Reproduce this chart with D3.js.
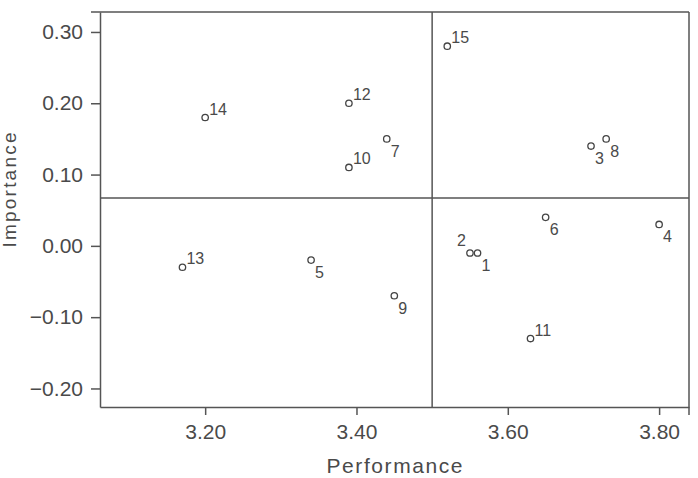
<!DOCTYPE html>
<html>
<head>
<meta charset="utf-8">
<script src="https://cdn.jsdelivr.net/npm/d3@7"></script>
<style>
  body { margin: 0; background: #fff; }
  text { font-family: "Liberation Sans", Arial, sans-serif; fill: #4a4a4a; }
</style>
</head>
<body>
<div id="chart"></div>
<script>
"use strict";

// data
const itemIds     = ["1", "2", "3", "4", "5", "6", "7", "8", "9", "10", "11", "12", "13", "14", "15"];
const performance = [3.56, 3.55, 3.71, 3.80, 3.34, 3.65, 3.44, 3.73, 3.45, 3.39, 3.63, 3.39, 3.17, 3.20, 3.52];
const importance  = [-0.01, -0.01, 0.14, 0.03, -0.02, 0.04, 0.15, 0.15, -0.07, 0.11, -0.13, 0.20, -0.03, 0.18, 0.28];
const labelSide   = ["lr", "ul", "lr", "lr", "lr", "lr", "lr", "lr", "lr", "ur", "ur", "ur", "ur", "ur", "ur"];
const xTicks = [3.20, 3.40, 3.60, 3.80];
const yTicks = [0.30, 0.20, 0.10, 0.00, -0.10, -0.20];
const refPerformance = 3.50;
const refImportance = 0.067;

// setting
const width = 698, height = 478;
const margin = {top: 12, right: 9, bottom: 71, left: 100};
const plotW = width - margin.left - margin.right,
      plotH = height - margin.top - margin.bottom;
const lineColor = "#555";

let points = itemIds.map((id, i) => ({id: id, x: performance[i], y: importance[i], side: labelSide[i]}));

let svg = d3.select("#chart").append("svg")
  .attr("width", width)
  .attr("height", height);

let chart = svg.append("g")
  .attr("transform", `translate(${margin.left}, ${margin.top})`);

// scales
let scaleX = d3.scaleLinear().domain([3.061, 3.8395]).range([0, plotW]);
let scaleY = d3.scaleLinear().domain([-0.226, 0.328]).range([plotH, 0]);

// y axis
chart.append("g")
  .attr("class", "y_axis")
  .call(d3.axisLeft(scaleY).tickValues(yTicks).tickFormat(d => d3.format(".2f")(d).replace("-", "\u2212")).tickSize(9).tickSizeOuter(0).tickPadding(8));

// x axis
chart.append("g")
  .attr("class", "x_axis")
  .attr("transform", `translate(0, ${plotH})`)
  .call(d3.axisBottom(scaleX).tickValues(xTicks).tickFormat(d3.format(".2f")).tickSize(8).tickSizeOuter(0).tickPadding(9));

chart.selectAll(".domain, .tick line")
  .attr("stroke", lineColor)
  .attr("stroke-width", 1.5);
chart.selectAll(".tick text")
  .attr("fill", "#4a4a4a")
  .style("font-size", "21px");

// frame top + right (with outer tick stubs)
chart.append("line")
  .attr("x1", -9).attr("x2", plotW)
  .attr("y1", 0).attr("y2", 0)
  .attr("stroke", lineColor).attr("stroke-width", 1.5);
chart.append("line")
  .attr("x1", plotW).attr("x2", plotW)
  .attr("y1", 0).attr("y2", plotH + 8)
  .attr("stroke", lineColor).attr("stroke-width", 1.5);

// reference lines
chart.append("line")
  .attr("x1", scaleX(refPerformance)).attr("x2", scaleX(refPerformance))
  .attr("y1", 0).attr("y2", plotH)
  .attr("stroke", lineColor).attr("stroke-width", 1.5);
chart.append("line")
  .attr("x1", 0).attr("x2", plotW)
  .attr("y1", scaleY(refImportance)).attr("y2", scaleY(refImportance))
  .attr("stroke", lineColor).attr("stroke-width", 1.5);

// points
let pts = chart.append("g").attr("class", "points")
  .selectAll("g")
  .data(points)
  .enter()
  .append("g")
  .attr("transform", d => `translate(${scaleX(d.x)}, ${scaleY(d.y)})`);

pts.append("circle")
  .attr("r", 3.2)
  .attr("fill", "none")
  .attr("stroke", "#444")
  .attr("stroke-width", 1.3);

pts.append("text")
  .text(d => d.id)
  .style("font-size", "16px")
  .attr("text-anchor", d => d.side == "ul" ? "end" : "start")
  .attr("x", d => d.side == "ul" ? -4 : 4)
  .attr("y", d => d.side == "lr" ? 18 : (d.side == "ul" ? -7 : -3));

// axis labels
svg.append("text")
  .attr("x", margin.left + plotW / 2)
  .attr("y", 473)
  .attr("text-anchor", "middle")
  .attr("textLength", 136)
  .attr("lengthAdjust", "spacing")
  .style("font-size", "21px")
  .text("Performance");

svg.append("text")
  .attr("transform", "translate(16, 190) rotate(-90)")
  .attr("text-anchor", "middle")
  .attr("textLength", 115)
  .attr("lengthAdjust", "spacing")
  .style("font-size", "19px")
  .text("Importance");
</script>
</body>
</html>
